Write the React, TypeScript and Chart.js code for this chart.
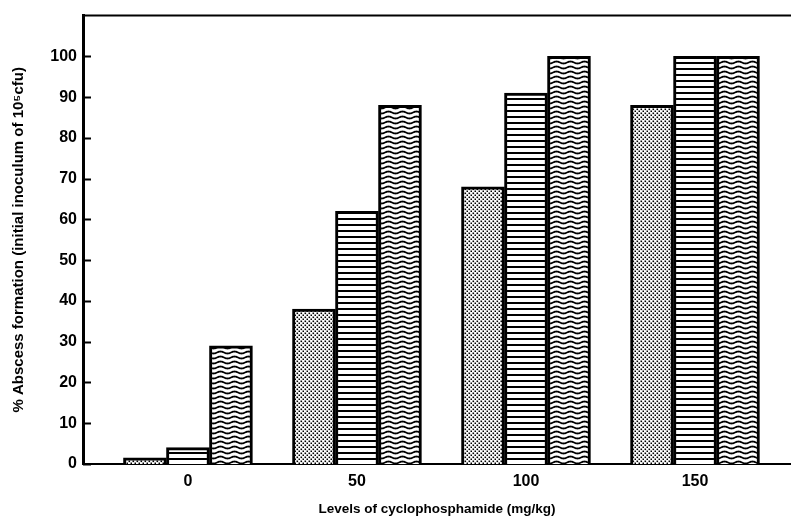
import React, { useEffect, useRef } from 'react';
import { Chart, registerables } from 'chart.js';

Chart.register(...registerables);

// ---- data ----
const categories = ['0', '50', '100', '150'];
const dottedValues = [1.5, 38, 68, 88];
const lineValues = [4, 62, 91, 100];
const waveValues = [29, 88, 100, 100];
const yTicks = [0, 10, 20, 30, 40, 50, 60, 70, 80, 90, 100];

const FONT = "'Liberation Sans', Arial, Helvetica, sans-serif";

function makeDotPattern(): CanvasPattern | string {
  const c = document.createElement('canvas');
  c.width = 4;
  c.height = 4;
  const g = c.getContext('2d');
  if (!g) return '#ccc';
  g.fillStyle = '#fff';
  g.fillRect(0, 0, 4, 4);
  g.fillStyle = '#000';
  g.fillRect(0.5, 0.5, 1.6, 1.6);
  g.fillRect(2.5, 2.5, 1.6, 1.6);
  return g.createPattern(c, 'repeat') || '#ccc';
}

function makeLinePattern(): CanvasPattern | string {
  const c = document.createElement('canvas');
  c.width = 8;
  c.height = 6;
  const g = c.getContext('2d');
  if (!g) return '#888';
  g.fillStyle = '#fff';
  g.fillRect(0, 0, 8, 6);
  g.fillStyle = '#000';
  g.fillRect(0, 2, 8, 2);
  return g.createPattern(c, 'repeat') || '#888';
}

function makeWavePattern(): CanvasPattern | string {
  const w = 14;
  const h = 5;
  const c = document.createElement('canvas');
  c.width = w;
  c.height = h;
  const g = c.getContext('2d');
  if (!g) return '#666';
  g.fillStyle = '#fff';
  g.fillRect(0, 0, w, h);
  g.strokeStyle = '#000';
  g.lineWidth = 1.8;
  g.beginPath();
  for (let x = -1; x <= w + 1; x += 0.5) {
    const y = 2.5 + 1.0 * Math.sin((2 * Math.PI * x) / w);
    if (x === -1) g.moveTo(x, y);
    else g.lineTo(x, y);
  }
  g.stroke();
  return g.createPattern(c, 'repeat') || '#666';
}

const framePlugin = {
  id: 'frameLines',
  afterDraw(chart: any) {
    const { ctx, chartArea, scales } = chart;
    ctx.save();
    ctx.strokeStyle = '#000';
    ctx.lineWidth = 2;
    ctx.beginPath();
    ctx.moveTo(chartArea.left, chartArea.top);
    ctx.lineTo(chartArea.right, chartArea.top);
    ctx.stroke();
    const ys = scales.y;
    ctx.beginPath();
    ctx.lineWidth = 2;
    ys.ticks.forEach((t: any) => {
      const py = Math.round(ys.getPixelForValue(t.value)) + 0.5;
      ctx.moveTo(chartArea.left, py);
      ctx.lineTo(chartArea.left + 8, py);
    });
    ctx.stroke();
    ctx.restore();
  },
};

export default function App() {
  const ref = useRef<HTMLCanvasElement | null>(null);

  useEffect(() => {
    if (!ref.current) return;
    const dot = makeDotPattern();
    const lines = makeLinePattern();
    const wave = makeWavePattern();
    const toPts = (arr: number[]) => arr.map((v, i) => ({ x: i, y: v }));
    const common = {
      borderColor: '#000',
      borderWidth: 3,
      borderSkipped: 'bottom' as const,
      barThickness: 43,
    };
    const chart = new Chart(ref.current, {
      type: 'bar',
      data: {
        datasets: [
          { label: 'a', data: toPts(dottedValues), backgroundColor: dot as any, ...common },
          { label: 'b', data: toPts(lineValues), backgroundColor: lines as any, ...common },
          { label: 'c', data: toPts(waveValues), backgroundColor: wave as any, ...common },
        ],
      },
      options: {
        responsive: false,
        animation: false,
        devicePixelRatio: 1,
        layout: { padding: { top: 12, left: 0, right: 0, bottom: 0 } },
        plugins: {
          legend: { display: false },
          tooltip: { enabled: false },
        },
        scales: {
          x: {
            type: 'linear',
            offset: false,
            min: -0.621,
            max: 3.568,
            grid: { display: false, drawTicks: false, offset: false },
            border: { display: true, color: '#000', width: 2 },
            afterBuildTicks: (s: any) => {
              s.ticks = categories.map((_, i) => ({ value: i }));
            },
            afterFit: (s: any) => {
              s.height = 61;
            },
            ticks: {
              color: '#000',
              padding: 8,
              maxRotation: 0,
              autoSkip: false,
              font: { family: FONT, size: 16, weight: 'bold' },
              callback: (v: any) => categories[Math.round(Number(v))] ?? '',
            },
            title: {
              display: true,
              text: 'Levels of cyclophosphamide (mg/kg)',
              color: '#000',
              font: { family: FONT, size: 13.5, weight: 'bold' },
              padding: { top: 0, bottom: 8 },
            },
          },
          y: {
            type: 'linear',
            min: 0,
            max: 110,
            grid: { display: false, drawTicks: false },
            border: { display: true, color: '#000', width: 3 },
            afterBuildTicks: (s: any) => {
              s.ticks = yTicks.map((v) => ({ value: v }));
            },
            afterFit: (s: any) => {
              s.width = 83;
            },
            ticks: {
              color: '#000',
              padding: 6,
              font: { family: FONT, size: 16, weight: 'bold' },
            },
            title: {
              display: true,
              text: '% Abscess formation (initial inoculum of 10\u2075cfu)',
              color: '#000',
              font: { family: FONT, size: 15, weight: 'bold' },
              padding: { top: 10, bottom: 0 },
            },
          },
        },
      },
      plugins: [framePlugin],
    });
    return () => chart.destroy();
  }, []);

  return (
    <div style={{ position: 'fixed', left: 0, top: 0, width: 791, height: 525, background: '#fff' }}>
      <canvas ref={ref} width={791} height={525} style={{ display: 'block' }} />
    </div>
  );
}
